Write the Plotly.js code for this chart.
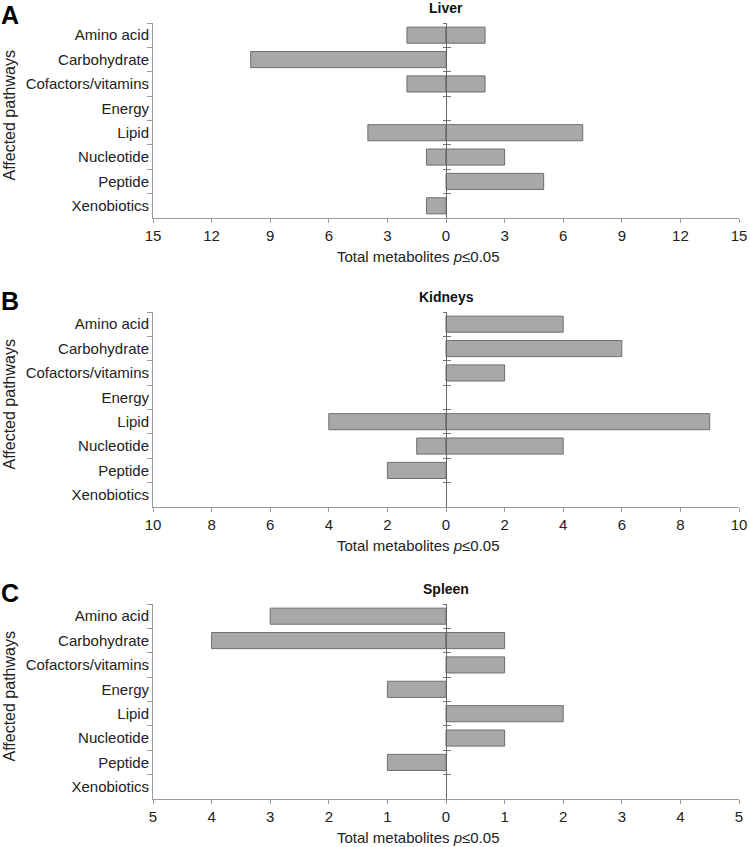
<!DOCTYPE html>
<html>
<head>
<meta charset="utf-8">
<script src="https://cdn.plot.ly/plotly-3.0.1.min.js"></script>
<style>html,body{margin:0;padding:0;background:#fff;}#chart{width:750px;height:847px;}</style>
</head>
<body>
<div id="chart"></div>
<script>
// ---- data ----
const categories = ['Amino acid', 'Carbohydrate', 'Cofactors/vitamins', 'Energy', 'Lipid', 'Nucleotide', 'Peptide', 'Xenobiotics'];

const panelTitles = ['Liver', 'Kidneys', 'Spleen'];
const panelLetters = ['A', 'B', 'C'];

const liverDown   = [-2, -10, -2, 0, -4, -1, 0, -1];
const liverUp     = [ 2,   0,  2, 0,  7,  3, 5,  0];
const kidneysDown = [ 0,   0,  0, 0, -4, -1, -2, 0];
const kidneysUp   = [ 4,   6,  2, 0,  9,  4,  0, 0];
const spleenDown  = [-3,  -4,  0, -1, 0,  0, -1, 0];
const spleenUp    = [ 0,   1,  1,  0, 2,  1,  0, 0];

const liverTickVals   = [-15, -12, -9, -6, -3, 0, 3, 6, 9, 12, 15];
const liverTickText   = ['15', '12', '9', '6', '3', '0', '3', '6', '9', '12', '15'];
const kidneysTickVals = [-10, -8, -6, -4, -2, 0, 2, 4, 6, 8, 10];
const kidneysTickText = ['10', '8', '6', '4', '2', '0', '2', '4', '6', '8', '10'];
const spleenTickVals  = [-5, -4, -3, -2, -1, 0, 1, 2, 3, 4, 5];
const spleenTickText  = ['5', '4', '3', '2', '1', '0', '1', '2', '3', '4', '5'];

const xTitle = 'Total metabolites <i>p</i>≤0.05';
const yTitle = 'Affected pathways';

// ---- layout helpers ----
const W = 750, H = 847;
const FONT = 'Liberation Sans, Arial, sans-serif';
const xL = 153, xR = 739;
const panels = [
  {down: liverDown,   up: liverUp,   tv: liverTickVals,   tt: liverTickText,   max: 15, top: 23,  bottom: 218},
  {down: kidneysDown, up: kidneysUp, tv: kidneysTickVals, tt: kidneysTickText, max: 10, top: 312, bottom: 507},
  {down: spleenDown,  up: spleenUp,  tv: spleenTickVals,  tt: spleenTickText,  max: 5,  top: 604, bottom: 799}
];
const py = p => 1 - p / H;
const px = p => p / W;
const nz = arr => arr.map(v => (v === 0 ? null : v));

const traces = [];
const layout = {
  width: W, height: H,
  margin: {l: 0, r: 0, t: 0, b: 0},
  paper_bgcolor: '#fff', plot_bgcolor: 'rgba(0,0,0,0)',
  showlegend: false,
  barmode: 'relative',
  bargap: 0.34,
  font: {family: FONT, size: 15, color: '#222'},
  annotations: []
};

panels.forEach((p, i) => {
  const n = i + 1;
  const xa = 'x' + (n === 1 ? '' : n);
  const yMain = 'y' + (3 * i + 1 === 1 ? '' : 3 * i + 1);
  const yOut = 'y' + (3 * i + 2);
  const yIn = 'y' + (3 * i + 3);
  const barStyle = {color: '#a8a8a8', line: {color: '#6e6e6e', width: 1}};
  traces.push({type: 'bar', orientation: 'h', x: nz(p.down), y: categories, xaxis: xa, yaxis: yMain, marker: barStyle, hoverinfo: 'x+y'});
  traces.push({type: 'bar', orientation: 'h', x: nz(p.up), y: categories, xaxis: xa, yaxis: yMain, marker: barStyle, hoverinfo: 'x+y'});
  // invisible helper traces so the zero-line tick axes know the categories
  [yOut, yIn].forEach(ya => traces.push({type: 'scatter', mode: 'markers', x: categories.map(() => 0), y: categories,
    xaxis: xa, yaxis: ya, marker: {opacity: 0}, hoverinfo: 'skip'}));

  const dom = [py(p.bottom), py(p.top)];
  const xKey = 'xaxis' + (n === 1 ? '' : n);
  layout[xKey] = {
    domain: [px(xL), px(xR)], anchor: yMain, range: [-p.max, p.max],
    tickmode: 'array', tickvals: p.tv, ticktext: p.tt,
    ticks: 'outside', ticklen: 4, tickcolor: '#9a9a9a', tickwidth: 1,
    showline: true, linecolor: '#9a9a9a', linewidth: 1,
    showgrid: false, zeroline: false, fixedrange: true,
    tickfont: {family: FONT, size: 15, color: '#222'}
  };
  const catBase = {type: 'category', categoryorder: 'array', categoryarray: categories, range: [7.5, -0.5], fixedrange: true, showgrid: false, zeroline: false};
  layout['yaxis' + (3 * i + 1 === 1 ? '' : 3 * i + 1)] = Object.assign({}, catBase, {
    domain: dom, anchor: xa,
    ticks: 'outside', tickson: 'boundaries', ticklen: 5, tickcolor: '#9a9a9a', tickwidth: 1,
    showline: true, linecolor: '#9a9a9a', linewidth: 1,
    tickfont: {family: FONT, size: 15, color: '#222'}
  });
  const zeroPos = px((xL + xR) / 2);
  layout['yaxis' + (3 * i + 2)] = Object.assign({}, catBase, {
    overlaying: yMain, anchor: 'free', position: zeroPos, side: 'left',
    ticks: 'outside', tickson: 'boundaries', ticklen: 3, tickcolor: '#777', tickwidth: 1,
    showline: true, linecolor: '#666', linewidth: 1, showticklabels: false
  });
  layout['yaxis' + (3 * i + 3)] = Object.assign({}, catBase, {
    overlaying: yMain, anchor: 'free', position: zeroPos, side: 'left',
    ticks: 'inside', tickson: 'boundaries', ticklen: 4, tickcolor: '#777', tickwidth: 1,
    showline: false, showticklabels: false
  });

  // panel title
  layout.annotations.push({text: '<b>' + panelTitles[i] + '</b>', xref: 'paper', yref: 'paper',
    x: px(446), y: py(p.top - 15), xanchor: 'center', yanchor: 'middle', showarrow: false,
    font: {family: FONT, size: 14, color: '#111'}});
  // panel letter
  layout.annotations.push({text: '<b>' + panelLetters[i] + '</b>', xref: 'paper', yref: 'paper',
    x: px(0), y: py(Math.max(0, p.top - 26)), xanchor: 'left', yanchor: 'top', showarrow: false,
    borderpad: 0, font: {family: FONT, size: 25, color: '#000'}});
  // x axis title
  layout.annotations.push({text: xTitle, xref: 'paper', yref: 'paper',
    x: px(418), y: py(p.bottom + 38), xanchor: 'center', yanchor: 'middle', showarrow: false,
    font: {family: FONT, size: 15, color: '#222'}});
  // y axis title
  layout.annotations.push({text: yTitle, xref: 'paper', yref: 'paper', textangle: -90,
    x: px(9), y: py((p.top + p.bottom) / 2 - 5), xanchor: 'center', yanchor: 'middle', showarrow: false,
    font: {family: FONT, size: 16, color: '#222'}});
});

Plotly.newPlot('chart', traces, layout, {displayModeBar: false, staticPlot: true});
</script>
</body>
</html>
